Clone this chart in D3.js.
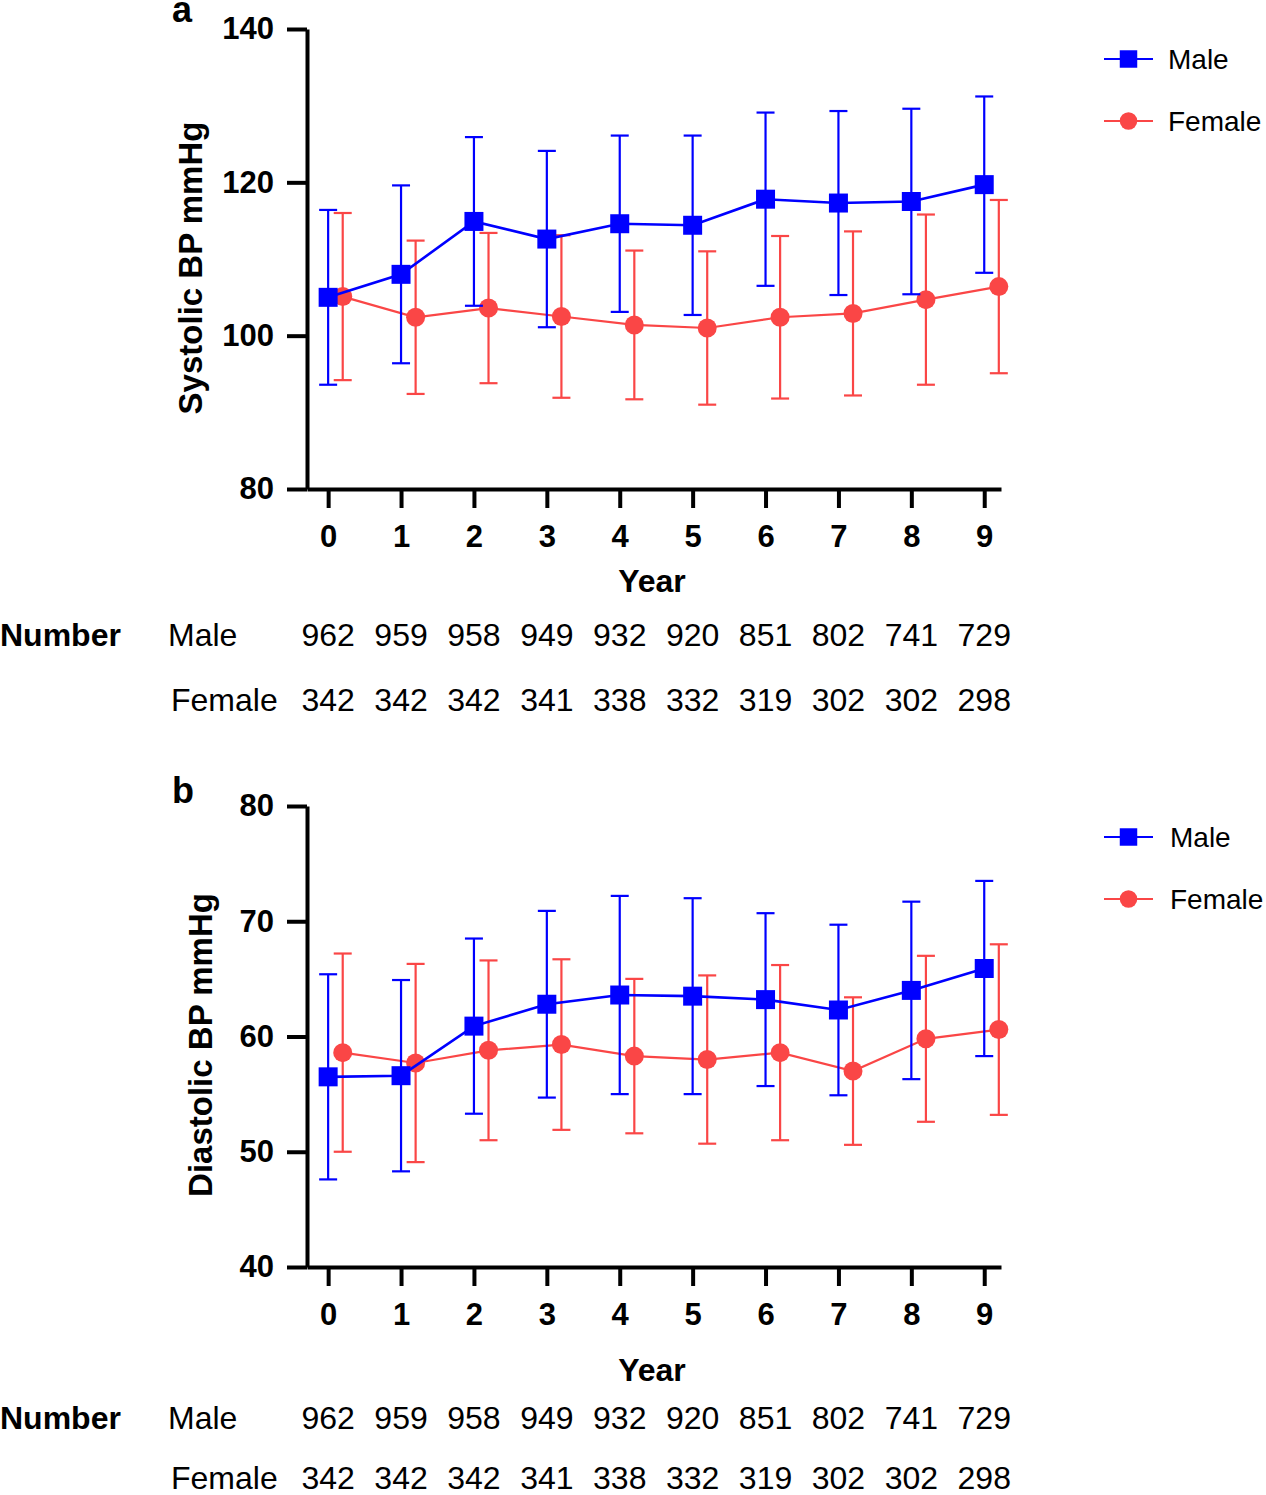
<!DOCTYPE html>
<html>
<head>
<meta charset="utf-8">
<script src="https://cdn.jsdelivr.net/npm/d3@7"></script>
<style>
  body { margin: 0; background: #fff; }
  svg { display: block; font-family: "Liberation Sans", Arial, Helvetica, sans-serif; }
</style>
</head>
<body>
<svg id="chart"></svg>
<script>
// years of follow-up
const years = [0, 1, 2, 3, 4, 5, 6, 7, 8, 9];

// systolic BP, mean and SD
const sbpMaleMean   = [105.0, 108.0, 114.9, 112.6, 114.6, 114.4, 117.8, 117.3, 117.5, 119.7];
const sbpMaleSd     = [11.4, 11.6, 11.0, 11.5, 11.5, 11.7, 11.3, 12.0, 12.1, 11.5];
const sbpFemaleMean = [105.1, 102.4, 103.6, 102.5, 101.4, 101.0, 102.4, 102.9, 104.7, 106.4];
const sbpFemaleSd   = [10.9, 10.0, 9.8, 10.6, 9.7, 10.0, 10.6, 10.7, 11.1, 11.3];

// diastolic BP, mean and SD
const dbpMaleMean   = [56.5, 56.6, 60.9, 62.8, 63.6, 63.5, 63.2, 62.3, 64.0, 65.9];
const dbpMaleSd     = [8.9, 8.3, 7.6, 8.1, 8.6, 8.5, 7.5, 7.4, 7.7, 7.6];
const dbpFemaleMean = [58.6, 57.7, 58.8, 59.3, 58.3, 58.0, 58.6, 57.0, 59.8, 60.6];
const dbpFemaleSd   = [8.6, 8.6, 7.8, 7.4, 6.7, 7.3, 7.6, 6.4, 7.2, 7.4];

// participants per year
const nMale   = [962, 959, 958, 949, 932, 920, 851, 802, 741, 729];
const nFemale = [342, 342, 342, 341, 338, 332, 319, 302, 302, 298];

const sbpTicks = [80, 100, 120, 140];
const dbpTicks = [40, 50, 60, 70, 80];

const BLUE = "#0000ff";
const RED = "#fa4646";

const svg = d3.select("#chart").attr("width", 1266).attr("height", 1495);

const x = d3.scaleLinear().domain([-0.29, 9.23]).range([307, 1001]);
const femaleShift = x(0.2) - x(0);

const sq = d3.symbol().type(d3.symbolSquare).size(19 * 19);
const dot = d3.symbol().type(d3.symbolCircle).size(Math.PI * 9.5 * 9.5);

function drawSeries(g, y, means, sds, color, shift, marker, lw) {
  const pts = years.map((yr, i) => ({ cx: x(yr) + shift, m: means[i], sd: sds[i] }));

  const bars = g.append("g").attr("stroke", color).attr("stroke-width", 2.2);
  pts.forEach(d => {
    const lo = y(d.m - d.sd), hi = y(d.m + d.sd);
    bars.append("line").attr("x1", d.cx).attr("x2", d.cx).attr("y1", lo).attr("y2", hi);
    bars.append("line").attr("x1", d.cx - 9).attr("x2", d.cx + 9).attr("y1", lo).attr("y2", lo);
    bars.append("line").attr("x1", d.cx - 9).attr("x2", d.cx + 9).attr("y1", hi).attr("y2", hi);
  });

  g.append("path")
    .datum(pts)
    .attr("fill", "none")
    .attr("stroke", color)
    .attr("stroke-width", lw)
    .attr("d", d3.line().x(d => d.cx).y(d => y(d.m)));

  g.selectAll(null)
    .data(pts)
    .enter()
    .append("path")
    .attr("d", marker)
    .attr("fill", color)
    .attr("transform", d => `translate(${d.cx},${y(d.m)})`);
}

function drawPanel(p) {
  const g = svg.append("g");
  const y = d3.scaleLinear().domain(p.domain).range(p.yRange);

  // axes
  const xAxis = g.append("g")
    .attr("transform", `translate(0,${p.yRange[0]})`)
    .call(d3.axisBottom(x).tickValues(years).tickSize(19).tickPadding(17).tickSizeOuter(0));
  const yAxis = g.append("g")
    .attr("transform", "translate(307,0)")
    .call(d3.axisLeft(y).tickValues(p.ticks).tickSize(20).tickPadding(13).tickSizeOuter(0));

  [xAxis, yAxis].forEach(a => {
    a.attr("font-family", null).attr("font-size", null);
    a.select(".domain").attr("stroke-width", 4);
    a.selectAll(".tick line").attr("stroke-width", 4);
    a.selectAll(".tick text").style("font-size", "31px").style("font-weight", "bold");
  });

  // axis titles + panel letter
  g.append("text")
    .attr("transform", `translate(${p.titleX},${p.titleY}) rotate(-90)`)
    .attr("text-anchor", "middle")
    .style("font-size", "33px").style("font-weight", "bold")
    .text(p.title);
  g.append("text")
    .attr("x", 652).attr("y", p.yearY)
    .attr("text-anchor", "middle")
    .style("font-size", "32px").style("font-weight", "bold")
    .text("Year");
  g.append("text")
    .attr("x", 172).attr("y", p.letterY)
    .style("font-size", "36px").style("font-weight", "bold")
    .text(p.letter);

  // data
  drawSeries(g, y, p.female, p.femaleSd, RED, femaleShift, dot, 2.2);
  drawSeries(g, y, p.male, p.maleSd, BLUE, 0, sq, 2.6);

  // legend
  const legend = [
    { label: "Male", color: BLUE, marker: sq, ly: p.legendY[0] },
    { label: "Female", color: RED, marker: dot, ly: p.legendY[1] }
  ];
  legend.forEach(l => {
    g.append("line")
      .attr("x1", 1104).attr("x2", 1153).attr("y1", l.ly).attr("y2", l.ly)
      .attr("stroke", l.color).attr("stroke-width", 2.2);
    g.append("path").attr("d", l.marker).attr("fill", l.color)
      .attr("transform", `translate(1128.5,${l.ly}) scale(0.92)`);
    g.append("text")
      .attr("x", p.legendTextX).attr("y", l.ly + 10)
      .style("font-size", "28px")
      .text(l.label);
  });

  // number-at-risk table
  g.append("text")
    .attr("x", 0).attr("y", p.tableY[0])
    .style("font-size", "32px").style("font-weight", "bold")
    .text("Number");
  g.append("text").attr("x", 168).attr("y", p.tableY[0]).style("font-size", "32px").text("Male");
  g.append("text").attr("x", 171).attr("y", p.tableY[1]).style("font-size", "32px").text("Female");
  [nMale, nFemale].forEach((row, r) => {
    g.selectAll(null)
      .data(row)
      .enter()
      .append("text")
      .attr("x", (d, i) => x(years[i]))
      .attr("y", p.tableY[r])
      .attr("text-anchor", "middle")
      .style("font-size", "32px")
      .text(d => d);
  });
}

drawPanel({
  letter: "a", letterY: 22,
  title: "Systolic BP mmHg", titleX: 202, titleY: 268,
  domain: [80, 140], yRange: [489, 29], ticks: sbpTicks,
  male: sbpMaleMean, maleSd: sbpMaleSd, female: sbpFemaleMean, femaleSd: sbpFemaleSd,
  yearY: 592, legendY: [59, 121], legendTextX: 1168,
  tableY: [646, 711]
});

drawPanel({
  letter: "b", letterY: 803,
  title: "Diastolic BP mmHg", titleX: 212, titleY: 1045,
  domain: [40, 80], yRange: [1267, 806], ticks: dbpTicks,
  male: dbpMaleMean, maleSd: dbpMaleSd, female: dbpFemaleMean, femaleSd: dbpFemaleSd,
  yearY: 1381, legendY: [837, 899], legendTextX: 1170,
  tableY: [1429, 1489]
});
</script>
</body>
</html>
